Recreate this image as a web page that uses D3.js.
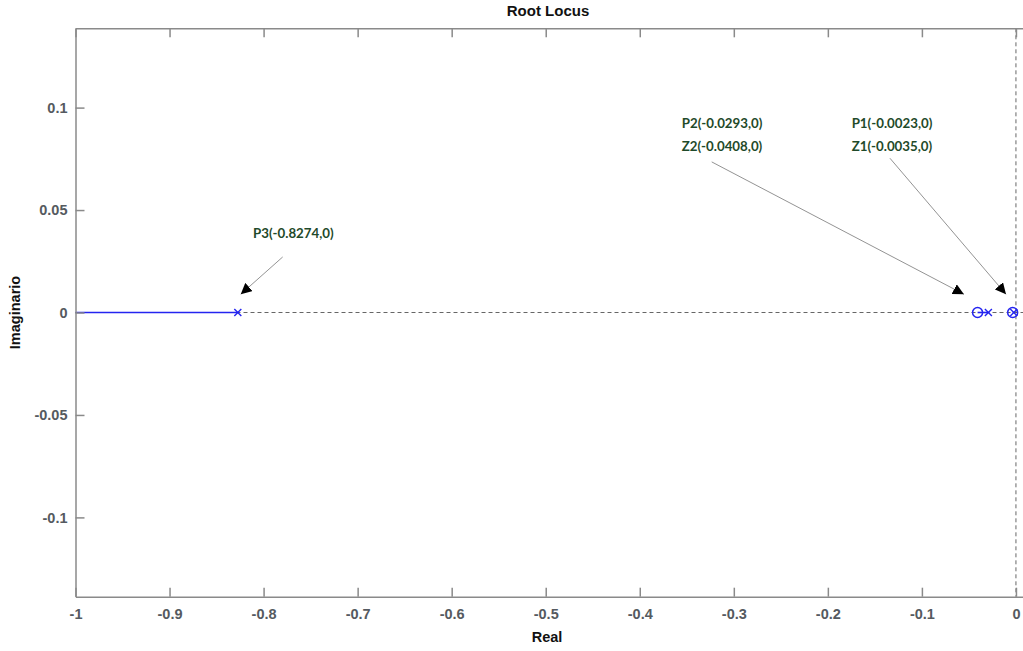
<!DOCTYPE html>
<html>
<head>
<meta charset="utf-8">
<script src="https://cdn.jsdelivr.net/npm/d3@7"></script>
<style>
  html, body { margin: 0; padding: 0; background: #fff; }
  svg { display: block; }
</style>
</head>
<body>
<svg id="chart" width="1023" height="651"></svg>
<script>
// ---- data ----
const poles = [-0.0023, -0.0293, -0.8274];
const zeros = [-0.0035, -0.0408];
// locus branches on the real axis: [start (pole), end]
const branchStart = [-0.0023, -0.0293, -0.8274];
const branchEnd   = [-0.0035, -0.0408, -1.0];
const xTicks = [-1, -0.9, -0.8, -0.7, -0.6, -0.5, -0.4, -0.3, -0.2, -0.1, 0];
const yTicks = [-0.1, -0.05, 0, 0.05, 0.1];
const xTickLabels = ["-1", "-0.9", "-0.8", "-0.7", "-0.6", "-0.5", "-0.4", "-0.3", "-0.2", "-0.1", "0"];
const yTickLabels = ["-0.1", "-0.05", "0", "0.05", "0.1"];
// annotations: text lines, text anchor (data units), arrow from/to (data units)
const annTexts = [["P3(-0.8274,0)"], ["P2(-0.0293,0)", "Z2(-0.0408,0)"], ["P1(-0.0023,0)", "Z1(-0.0035,0)"]];
const annTextX = [-0.8113, -0.3554, -0.1747];
const annTextY = [0.0362, 0.0899, 0.0899];
const annFromX = [-0.7797, -0.3235, -0.1340];
const annFromY = [0.0271, 0.0735, 0.0753];
const annToX   = [-0.8243, -0.0553, -0.0106];
const annToY   = [0.0089, 0.0089, 0.0089];

const title = "Root Locus", xLabel = "Real", yLabel = "Imaginario";

// ---- layout ----
const svg = d3.select("#chart");
const pLeft = 75.5, pRight = 1023, pTop = 28.3, pBottom = 596.7;
const x = d3.scaleLinear().domain([-1, 0.0075]).range([pLeft, pRight]);
const y = d3.scaleLinear().domain([-0.1387, 0.1387]).range([pBottom, pTop]);
const blue = "#2424f0";
const axisCol = "#8a8a8a";
const tickCol = "#555a60";

// zero axes (dashed)
svg.append("line").attr("x1", pLeft).attr("x2", pRight).attr("y1", y(0)).attr("y2", y(0))
  .attr("stroke", "#666").attr("stroke-width", 1).attr("stroke-dasharray", "4,3");
svg.append("line").attr("x1", x(0)).attr("x2", x(0)).attr("y1", pTop).attr("y2", pBottom)
  .attr("stroke", "#666").attr("stroke-width", 1).attr("stroke-dasharray", "4,3");

// branches
svg.append("g").selectAll("line").data(branchStart).join("line")
  .attr("x1", (d) => x(d)).attr("x2", (d, i) => x(branchEnd[i]))
  .attr("y1", y(0)).attr("y2", y(0))
  .attr("stroke", blue).attr("stroke-width", 1.6);

// poles (x markers)
const s = 3.5;
const pg = svg.append("g").selectAll("g").data(poles).join("g")
  .attr("transform", (d) => `translate(${x(d)},${y(0)})`);
pg.append("line").attr("x1", -s).attr("y1", -s).attr("x2", s).attr("y2", s).attr("stroke", blue).attr("stroke-width", 1.4);
pg.append("line").attr("x1", -s).attr("y1", s).attr("x2", s).attr("y2", -s).attr("stroke", blue).attr("stroke-width", 1.4);

// zeros (o markers)
svg.append("g").selectAll("circle").data(zeros).join("circle")
  .attr("cx", (d) => x(d)).attr("cy", y(0)).attr("r", 5)
  .attr("fill", "none").attr("stroke", blue).attr("stroke-width", 1.5);

// axes
const xAxisB = d3.axisBottom(x).tickValues(xTicks).tickFormat((d, i) => xTickLabels[i]).tickSizeInner(-9).tickSizeOuter(0).tickPadding(12);
const xAxisT = d3.axisTop(x).tickValues(xTicks).tickFormat("").tickSizeInner(-9).tickSizeOuter(0);
const yAxisL = d3.axisLeft(y).tickValues(yTicks).tickFormat((d, i) => yTickLabels[i]).tickSizeInner(-9).tickSizeOuter(0).tickPadding(8);

function styleAxis(g) {
  g.select(".domain").attr("stroke", axisCol).attr("stroke-width", 1.5);
  g.selectAll(".tick line").attr("stroke", axisCol).attr("stroke-width", 1.5);
  g.selectAll(".tick text").attr("fill", tickCol)
    .attr("font-family", "Liberation Sans, Arial, sans-serif").attr("font-weight", "bold").attr("font-size", "14.5px");
}
svg.append("g").attr("transform", `translate(0,${pBottom})`).call(xAxisB).call(styleAxis);
svg.append("g").attr("transform", `translate(0,${pTop})`).call(xAxisT).call(styleAxis);
svg.append("g").attr("transform", `translate(${pLeft},0)`).call(yAxisL).call(styleAxis);

// titles
const lab = (t) => t.attr("font-family", "Liberation Sans, Arial, sans-serif").attr("font-weight", "bold").attr("font-size", "14.5px").attr("fill", "#111").attr("text-anchor", "middle");
svg.append("text").attr("x", 548).attr("y", 16).text(title).call(lab).attr("font-size", "15px");
svg.append("text").attr("x", 547).attr("y", 642).text(xLabel).call(lab);
svg.append("text").attr("transform", `translate(20,${y(0)}) rotate(-90)`).text(yLabel).call(lab);

// annotations
const defs = svg.append("defs");
defs.append("marker").attr("id", "ah").attr("viewBox", "0 0 10 10").attr("refX", 10).attr("refY", 5)
  .attr("markerWidth", 11).attr("markerHeight", 11).attr("markerUnits", "userSpaceOnUse").attr("orient", "auto")
  .append("path").attr("d", "M0,0 L10,5 L0,10 Z").attr("fill", "#000");

svg.append("g").selectAll("line").data(annFromX).join("line")
  .attr("x1", (d) => x(d)).attr("y1", (d, i) => y(annFromY[i]))
  .attr("x2", (d, i) => x(annToX[i])).attr("y2", (d, i) => y(annToY[i]))
  .attr("stroke", "#777").attr("stroke-width", 0.8).attr("marker-end", "url(#ah)");

annTexts.forEach((lines, i) => {
  lines.forEach((t, j) => {
    svg.append("text").attr("x", x(annTextX[i])).attr("y", y(annTextY[i]) + j * 22.5)
      .attr("font-family", "Lato, Carlito, sans-serif").attr("font-weight", "bold").attr("font-size", "13.3px")
      .attr("fill", "#1f4a2a").text(t);
  });
});
</script>
</body>
</html>
